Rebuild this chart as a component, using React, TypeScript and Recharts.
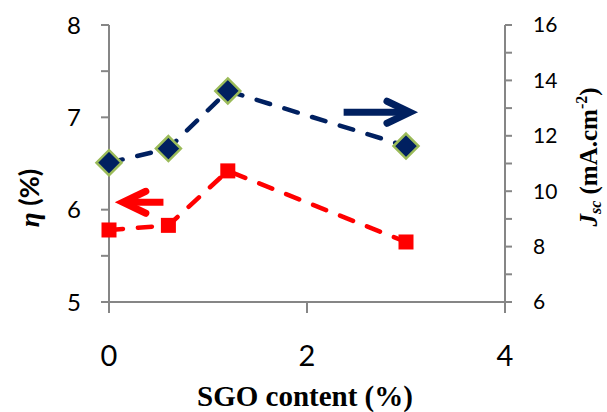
import { LineChart, Line, XAxis, YAxis, ReferenceLine } from "recharts";

const sgoContent = [0, 0.6, 1.2, 3];
const etaValues = [5.78, 5.83, 6.42, 5.65];
const jscValues = [11.03, 11.54, 13.62, 11.63];

const xTicks = [0, 2, 4];
const etaTicks = [5, 5.5, 6, 6.5, 7, 7.5, 8];
const jscTicks = [6, 7, 8, 9, 10, 11, 12, 13, 14, 15, 16];

// arrows pointing at the axis each series belongs to (data space)
const jscArrowX = [2.37, 3.04];
const jscArrowY = 12.85;
const etaArrowX = [0.55, 0.14];
const etaArrowY = 6.08;

const data = sgoContent.map((x, i) => ({ x, eta: etaValues[i], jsc: jscValues[i] }));

const AXIS = "#868686";
const BLUE = "#002060";
const RED = "#ff0000";
const TICK_FONT = "Lato, 'Open Sans', sans-serif";
const SERIF = "'Liberation Serif', 'DejaVu Serif', serif";

const Diamond = (props: any) => {
    const { cx, cy, index } = props;
    const r = 12.5;
    return (
        <polygon
            key={`d-${index}`}
            points={`${cx},${cy - r} ${cx + r},${cy} ${cx},${cy + r} ${cx - r},${cy}`}
            fill={BLUE}
            stroke="#9bbb59"
            strokeWidth={2.5}
        />
    );
};

const Square = (props: any) => {
    const { cx, cy, index } = props;
    const s = 15;
    return <rect key={`s-${index}`} x={cx - s / 2} y={cy - s / 2} width={s} height={s} fill={RED} />;
};

const arrowShape = (color: string) => (props: any) => {
    const { x1, y1, x2, y2 } = props;
    const dir = x2 > x1 ? 1 : -1;
    return (
        <g>
            <line x1={x1} y1={y1} x2={x2 - dir * 4} y2={y2} stroke={color} strokeWidth={7} />
            <polyline
                points={`${x2 - dir * 23},${y2 - 11} ${x2},${y2} ${x2 - dir * 23},${y2 + 11}`}
                fill="none"
                stroke={color}
                strokeWidth={7}
                strokeLinecap="round"
                strokeLinejoin="miter"
            />
        </g>
    );
};

const fmtEta = (v: number) => (Number.isInteger(v) ? String(v) : "");
const fmtJsc = (v: number) => (v % 2 === 0 ? String(v) : "");

export default function App() {
    return (
        <div style={{ position: "absolute", left: 0, top: 0, width: 607, height: 412, background: "#fff" }}>
            <LineChart width={607} height={412} data={data} margin={{ top: 25, right: 0, bottom: 0, left: 0 }}>
                <XAxis
                    dataKey="x"
                    type="number"
                    domain={[0, 4]}
                    ticks={xTicks}
                    height={110}
                    stroke={AXIS}
                    strokeWidth={2}
                    tickSize={11}
                    tickMargin={32}
                    tick={{ fontSize: 29, fill: "#000", fontFamily: TICK_FONT }}
                    label={{
                        content: () => (
                            <text x={305} y={406} textAnchor="middle" fontFamily={SERIF} fontWeight="bold" fontSize={29} fill="#000">
                                SGO content (%)
                            </text>
                        ),
                    }}
                />
                <YAxis
                    yAxisId="left"
                    orientation="left"
                    width={109}
                    domain={[5, 8]}
                    ticks={etaTicks}
                    tickFormatter={fmtEta}
                    stroke={AXIS}
                    strokeWidth={2}
                    tickSize={8}
                    tickMargin={20}
                    tick={{ fontSize: 24, fill: "#000", fontFamily: TICK_FONT }}
                    label={{
                        content: () => (
                            <text
                                transform="translate(39,198) rotate(-90)"
                                textAnchor="middle"
                                fontFamily={SERIF}
                                fontWeight="bold"
                                fontSize={27}
                                fill="#000"
                            >
                                <tspan fontStyle="italic">η</tspan>
                                <tspan fontFamily={TICK_FONT}> (%)</tspan>
                            </text>
                        ),
                    }}
                />
                <YAxis
                    yAxisId="right"
                    orientation="right"
                    width={102}
                    domain={[6, 16]}
                    ticks={jscTicks}
                    tickFormatter={fmtJsc}
                    stroke={AXIS}
                    strokeWidth={2}
                    tickSize={7}
                    tickMargin={21}
                    tick={{ fontSize: 21, fill: "#000", fontFamily: TICK_FONT }}
                    label={{
                        content: () => (
                            <text
                                transform="translate(597,157) rotate(-90)"
                                textAnchor="middle"
                                fontFamily={SERIF}
                                fontWeight="bold"
                                fontSize={25}
                                fill="#000"
                            >
                                <tspan fontStyle="italic">J</tspan>
                                <tspan fontStyle="italic" fontSize={16} dy={4}>sc</tspan>
                                <tspan dy={-4}> (mA.cm</tspan>
                                <tspan fontSize={16} dy={-10}>-2</tspan>
                                <tspan dy={10}>)</tspan>
                            </text>
                        ),
                    }}
                />
                <Line
                    yAxisId="right"
                    dataKey="jsc"
                    stroke={BLUE}
                    strokeWidth={4.5}
                    strokeDasharray="14 15"
                    strokeLinecap="round"
                    dot={Diamond}
                    isAnimationActive={false}
                />
                <Line
                    yAxisId="left"
                    dataKey="eta"
                    stroke={RED}
                    strokeWidth={4.5}
                    strokeDasharray="14 15"
                    strokeLinecap="round"
                    dot={Square}
                    isAnimationActive={false}
                />
                <ReferenceLine
                    yAxisId="right"
                    segment={[
                        { x: jscArrowX[0], y: jscArrowY },
                        { x: jscArrowX[1], y: jscArrowY },
                    ]}
                    shape={arrowShape(BLUE)}
                />
                <ReferenceLine
                    yAxisId="left"
                    segment={[
                        { x: etaArrowX[0], y: etaArrowY },
                        { x: etaArrowX[1], y: etaArrowY },
                    ]}
                    shape={arrowShape(RED)}
                />
            </LineChart>
        </div>
    );
}
